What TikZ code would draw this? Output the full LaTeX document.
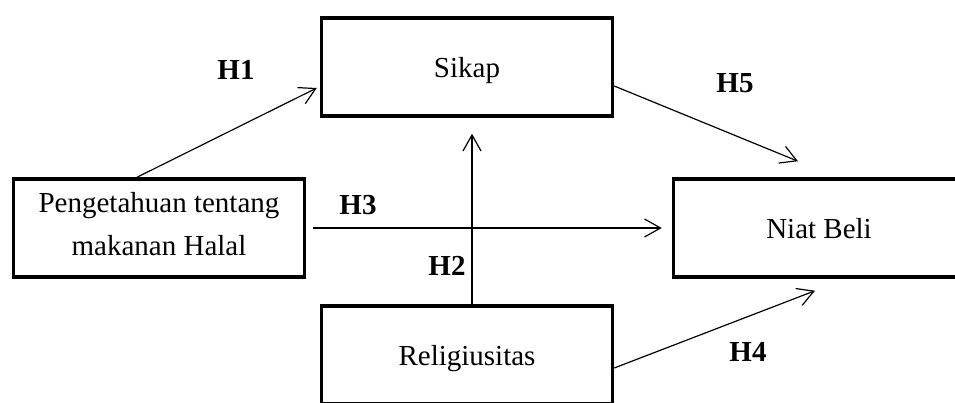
\documentclass[tikz,border=0pt]{standalone}
\usepackage{fontspec}
\setmainfont{Liberation Serif}
\usetikzlibrary{arrows.meta}

\begin{document}
\begin{tikzpicture}[x=1pt,y=-1pt,
    font=\fontsize{29}{43}\selectfont,
    var/.style={draw,line width=3.5pt,rectangle,minimum width=291pt,minimum height=98pt,inner sep=0pt,text depth=0pt,align=center},
    hyp/.style={-{Straight Barb[length=16pt,width=18pt]},line width=1.2pt},
    lbl/.style={font=\fontsize{29}{43}\selectfont\bfseries,text depth=0pt,inner sep=0pt}]
    %% Frame
    \useasboundingbox (0,0) rectangle (955,403);
    \clip (0,0) rectangle (955,403);
    %% Variables
    \node[var] (sikap) at (467,67) {Sikap};
    \node[var,text depth=9pt] (peng) at (159,228) {Pengetahuan tentang\\makanan Halal};
    \node[var] (niat) at (819,228) {Niat Beli};
    \node[var] (relig) at (467,355) {Religiusitas};
    %% Hypotheses
    \draw[hyp] ([xshift=-22pt]peng.north) -- ([xshift=-3pt,yshift=-21pt]sikap.west);
    \draw[hyp] ([yshift=-19pt]sikap.east) -- ([xshift=-21pt,yshift=16pt]niat.north);
    \draw[hyp] ([xshift=7pt]peng.east) -- ([xshift=-10pt]niat.west);
    \draw[hyp] ([xshift=5pt]relig.north) -- ([xshift=5pt,yshift=-16pt]sikap.south);
    \draw[hyp] ([yshift=-13pt]relig.east) -- ([xshift=-4pt,yshift=-12pt]niat.south);
    %% Labels
    \node[lbl] (h1) at (236,70) {H1};
    \node[lbl] (h5) at (735,83) {H5};
    \node[lbl] (h3) at (358,205) {H3};
    \node[lbl] (h2) at (447,266) {H2};
    \node[lbl] (h4) at (748,352) {H4};
\end{tikzpicture}
\end{document}
